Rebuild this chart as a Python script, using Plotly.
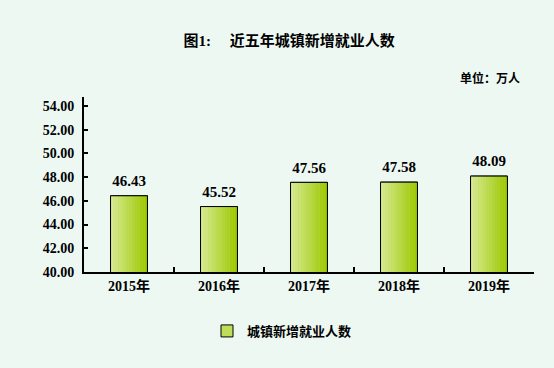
import plotly.graph_objects as go

years = ["2015年", "2016年", "2017年", "2018年", "2019年"]
values = [46.43, 45.52, 47.56, 47.58, 48.09]
y_ticks = [40, 42, 44, 46, 48, 50, 52, 54]
y_tick_labels = ["40.00", "42.00", "44.00", "46.00", "48.00", "50.00", "52.00", "54.00"]
series_name = "城镇新增就业人数"

BG = "#EDF8F3"
FONT = "Liberation Serif, 'Noto Sans CJK SC', serif"
bw = 0.41
N = 14
c0 = (216, 234, 147)
c1 = (156, 200, 0)

fig = go.Figure()
# base bar (legend)
fig.add_trace(go.Bar(x=years, y=values, width=bw, name="<b>%s</b>" % series_name,
                     marker=dict(color="rgb(190,222,90)", line=dict(color="black", width=1)),
                     showlegend=True))
for k in range(N):
    t = k / (N - 1)
    col = "rgb(%d,%d,%d)" % tuple(round(a + (b - a) * t) for a, b in zip(c0, c1))
    fig.add_trace(go.Bar(x=years, y=values, width=bw / N, offset=-bw / 2 + k * bw / N,
                         marker=dict(color=col, line=dict(width=0)), showlegend=False,
                         hoverinfo="skip"))
fig.add_trace(go.Bar(x=years, y=values, width=bw, showlegend=False,
                     marker=dict(color="rgba(0,0,0,0)", line=dict(color="black", width=1)),
                     hoverinfo="skip"))
fig.add_trace(go.Scatter(x=years, y=values, mode="markers+text", showlegend=False,
                         marker=dict(size=8, opacity=0),
                         text=["<b>%.2f</b>" % v for v in values], textposition="top center",
                         cliponaxis=False,
                         textfont=dict(family=FONT, size=15, color="black")))

fig.update_layout(
    width=554, height=368, barmode="overlay",
    paper_bgcolor=BG, plot_bgcolor=BG,
    margin=dict(l=84, r=20, t=97, b=96, autoexpand=False),
    font=dict(family=FONT, size=13, color="black"),
    title=dict(text="<b>图1:     近五年城镇新增就业人数</b>", x=0.522, xanchor="center",
               y=0.89, yanchor="middle", font=dict(size=15, family=FONT)),
    showlegend=True,
    legend=dict(orientation="h", x=0.44, xanchor="center", y=-0.337, yanchor="middle",
                font=dict(size=13, family=FONT), bgcolor="rgba(0,0,0,0)"),
    annotations=[dict(text="<b>单位：万人</b>", xref="paper", yref="paper",
                      x=1.0 - 12 / 450, xanchor="right", y=1.0 + 19 / 175, yanchor="middle",
                      showarrow=False, font=dict(size=12, family=FONT))],
)
fig.update_yaxes(range=[40, 54.76], tickvals=y_ticks, ticktext=["<b>%s</b>" % s for s in y_tick_labels],
                 showline=True, linecolor="black", linewidth=2, ticks="inside", ticklen=4,
                 tickwidth=2, tickcolor="black", showgrid=False, zeroline=False,
                 ticklabelstandoff=5,
                 automargin=False, tickfont=dict(size=14, family=FONT))
fig.update_xaxes(showline=True, linecolor="black", linewidth=2, ticks="inside", ticklen=5,
                 tickwidth=2, tickcolor="black", tickson="boundaries", showgrid=False,
                 tickvals=years, ticktext=["<b>%s</b>" % s for s in years],
                 automargin=False, tickfont=dict(size=14, family=FONT))

fig.write_html("out.html", config={"displayModeBar": False},
               post_script="document.body.style.margin='0';")
